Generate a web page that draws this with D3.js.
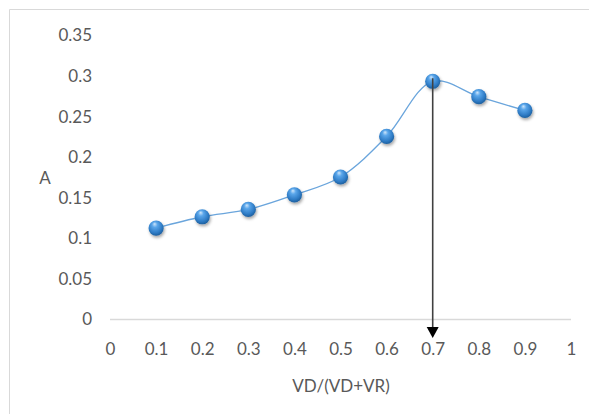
<!DOCTYPE html>
<html>
<head>
<meta charset="utf-8">
<script src="https://cdn.jsdelivr.net/npm/d3@7"></script>
<style>
  html, body { margin: 0; padding: 0; background: #fff; }
  svg { display: block; }
  text { font-family: Lato, "Open Sans", sans-serif; fill: #595959; }
</style>
</head>
<body>
<svg id="chart" width="589" height="414"></svg>
<script>
// Ratio of VD to VD+VR and the measured A values
const ratios = [0.1, 0.2, 0.3, 0.4, 0.5, 0.6, 0.7, 0.8, 0.9];
const absorbance = [0.112, 0.126, 0.135, 0.153, 0.175, 0.225, 0.293, 0.274, 0.257];
const xTicks = [0, 0.1, 0.2, 0.3, 0.4, 0.5, 0.6, 0.7, 0.8, 0.9, 1];
const yTicks = [0, 0.05, 0.1, 0.15, 0.2, 0.25, 0.3, 0.35];
const peakRatio = 0.7;

const svg = d3.select("#chart");
const W = 589, H = 414;
const FS = 17;

// chart area frame
svg.append("path")
  .attr("d", `M9.5,${H} V9.5 H${W}`)
  .attr("fill", "none").attr("stroke", "#d9d9d9").attr("stroke-width", 1);

const x = d3.scaleLinear().domain([0, 1]).range([110, 571]);
const y = d3.scaleLinear().domain([0, 0.35]).range([319, 35]);

// x axis line
svg.append("line")
  .attr("x1", x(0)).attr("x2", x(1))
  .attr("y1", y(0) + 0.5).attr("y2", y(0) + 0.5)
  .attr("stroke", "#d9d9d9").attr("stroke-width", 1.3);

// tick labels
const xAxis = d3.axisBottom(x).tickValues(xTicks).tickSize(0).tickPadding(0)
  .tickFormat(d => String(d));
svg.append("g").attr("transform", `translate(0,${y(0) + 30})`).call(xAxis)
  .call(g => g.select(".domain").remove())
  .selectAll("text").attr("dy", "0.35em").attr("font-size", FS)
  .style("font-family", "Lato, 'Open Sans', sans-serif").attr("fill", "#595959");

const yAxis = d3.axisLeft(y).tickValues(yTicks).tickSize(0).tickPadding(0)
  .tickFormat(d => String(d));
svg.append("g").attr("transform", "translate(92,0)").call(yAxis)
  .call(g => g.select(".domain").remove())
  .selectAll("text").attr("dy", "0.35em").attr("font-size", FS)
  .style("font-family", "Lato, 'Open Sans', sans-serif").attr("fill", "#595959");

// axis titles
svg.append("text").attr("x", 45).attr("y", 178).attr("dy", "0.35em")
  .attr("text-anchor", "middle").attr("font-size", FS).text("A");
svg.append("text").attr("x", 341).attr("y", 386).attr("dy", "0.35em")
  .attr("text-anchor", "middle").attr("font-size", FS).text("VD/(VD+VR)");

const defs = svg.append("defs");
const grad = defs.append("radialGradient").attr("id", "ball")
  .attr("cx", "45%").attr("cy", "40%").attr("r", "60%").attr("fx", "40%").attr("fy", "22%");
grad.append("stop").attr("offset", "0%").attr("stop-color", "#cfe6fb");
grad.append("stop").attr("offset", "30%").attr("stop-color", "#5aa6ea");
grad.append("stop").attr("offset", "75%").attr("stop-color", "#2f7cc6");
grad.append("stop").attr("offset", "100%").attr("stop-color", "#1d5f9e");
const shadow = defs.append("filter").attr("id", "shadow")
  .attr("x", "-50%").attr("y", "-50%").attr("width", "200%").attr("height", "200%");
shadow.append("feDropShadow").attr("dx", 1).attr("dy", 2).attr("stdDeviation", 1.5)
  .attr("flood-color", "#000").attr("flood-opacity", 0.35);

const data = ratios.map((r, i) => ({ r, a: absorbance[i] }));

// smoothed series line
const line = d3.line().x(d => x(d.r)).y(d => y(d.a)).curve(d3.curveCatmullRom.alpha(0.5));
svg.append("path").datum(data).attr("d", line)
  .attr("fill", "none").attr("stroke", "#6aa5dc").attr("stroke-width", 1.3);

// markers
svg.append("g").selectAll("circle").data(data).join("circle")
  .attr("cx", d => x(d.r)).attr("cy", d => y(d.a)).attr("r", 7.6)
  .attr("fill", "url(#ball)").attr("filter", "url(#shadow)");

// arrow from the peak down to the axis
const peak = data.find(d => d.r === peakRatio);
const ax = x(peakRatio);
svg.append("line").attr("x1", ax).attr("x2", ax)
  .attr("y1", y(peak.a) - 3).attr("y2", 328)
  .attr("stroke", "#404040").attr("stroke-width", 1.6);
svg.append("path")
  .attr("d", `M${ax - 6},${327} L${ax + 6},${327} L${ax},${338} Z`)
  .attr("fill", "#000");
</script>
</body>
</html>
